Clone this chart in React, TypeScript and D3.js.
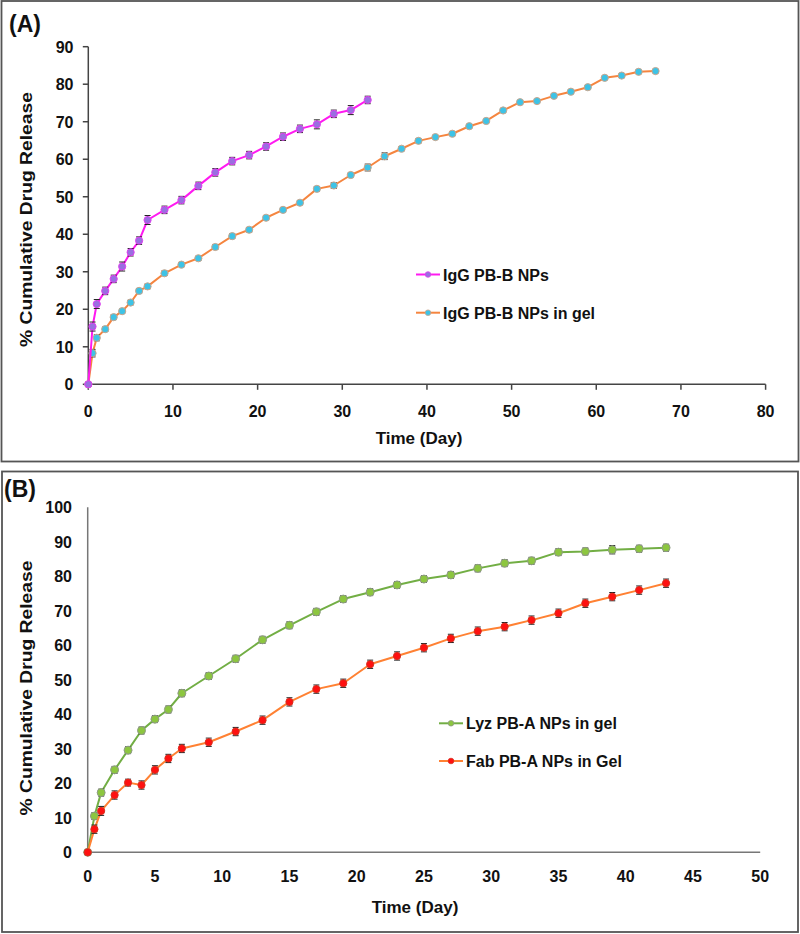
import React from "react";
import * as d3 from "d3";

// ---------- Panel A data ----------
const daysA_np = [0, 0.5, 1, 2, 3, 4, 5, 6, 7, 9, 11, 13, 15, 17, 19, 21, 23, 25, 27, 29, 31, 33];
const igG_np = [0, 15.4, 21.4, 24.9, 28.1, 31.4, 35.2, 38.3, 43.8, 46.5, 49.1, 52.9, 56.5, 59.5, 61.1, 63.4, 66.0, 68.1, 69.3, 72.1, 73.1, 75.8];
const igG_np_err = [0.3, 1.2, 1.2, 1.0, 1.0, 1.2, 1.0, 1.0, 1.2, 1.0, 1.0, 1.0, 1.0, 1.0, 1.0, 1.0, 1.0, 1.0, 1.2, 1.0, 1.2, 1.0];

const daysA_gel = [0, 0.5, 1, 2, 3, 4, 5, 6, 7, 9, 11, 13, 15, 17, 19, 21, 23, 25, 27, 29, 31, 33, 35, 37, 39, 41, 43, 45, 47, 49, 51, 53, 55, 57, 59, 61, 63, 65, 67];
const igG_gel = [0, 8.3, 12.4, 14.7, 17.9, 19.5, 21.8, 24.9, 26.1, 29.6, 31.9, 33.6, 36.6, 39.5, 41.2, 44.4, 46.5, 48.4, 52.1, 53.0, 55.8, 57.8, 60.8, 62.8, 64.9, 65.9, 66.8, 68.8, 70.2, 73.0, 75.2, 75.5, 76.9, 78.0, 79.2, 81.7, 82.3, 83.3, 83.5];
const igG_gel_err = [0.2, 1.0, 0.8, 0.6, 0.6, 0.5, 0.6, 0.6, 0.6, 0.6, 0.5, 0.5, 0.6, 0.6, 0.6, 0.5, 0.5, 0.5, 0.6, 0.8, 0.5, 0.9, 0.9, 0.5, 0.5, 0.4, 0.4, 0.4, 0.4, 0.4, 0.4, 0.4, 0.4, 0.4, 0.4, 0.4, 0.4, 0.4, 0.4];

const xTicksA = [0, 10, 20, 30, 40, 50, 60, 70, 80];
const yTicksA = [0, 10, 20, 30, 40, 50, 60, 70, 80, 90];

// ---------- Panel B data ----------
const daysB = [0, 0.5, 1, 2, 3, 4, 5, 6, 7, 9, 11, 13, 15, 17, 19, 21, 23, 25, 27, 29, 31, 33, 35, 37, 39, 41, 43];
const lyz_gel = [0, 10.5, 17.3, 23.9, 29.6, 35.3, 38.6, 41.4, 46.1, 51.1, 56.1, 61.6, 65.8, 69.7, 73.4, 75.4, 77.5, 79.2, 80.4, 82.3, 83.8, 84.5, 87.0, 87.2, 87.7, 88.0, 88.3];
const lyz_err = [0.3, 1.0, 1.0, 1.0, 1.0, 1.0, 1.0, 1.0, 1.0, 1.0, 1.0, 1.0, 1.0, 1.0, 1.0, 1.0, 1.0, 1.0, 1.0, 1.0, 1.0, 1.0, 1.0, 1.0, 1.2, 1.0, 1.0];
const fab_gel = [0, 6.7, 12.0, 16.6, 20.2, 19.5, 23.9, 27.2, 30.1, 31.9, 35.0, 38.3, 43.6, 47.3, 49.0, 54.5, 56.9, 59.3, 62.0, 64.1, 65.4, 67.3, 69.3, 72.2, 74.1, 76.0, 78.0];
const fab_err = [0.3, 1.2, 1.3, 1.2, 1.0, 1.2, 1.2, 1.2, 1.2, 1.2, 1.2, 1.2, 1.2, 1.2, 1.2, 1.2, 1.2, 1.2, 1.2, 1.2, 1.2, 1.2, 1.2, 1.2, 1.2, 1.2, 1.2];

const xTicksB = [0, 5, 10, 15, 20, 25, 30, 35, 40, 45, 50];
const yTicksB = [0, 10, 20, 30, 40, 50, 60, 70, 80, 90, 100];

const FONT = "'Liberation Sans', Arial, sans-serif";

type Series = {
  days: number[];
  values: number[];
  errs: number[];
  line: string;
  fill: string;
  stroke: string;
  r: number;
  label: string;
};

function SeriesMarks({ s, x, y }: { s: Series; x: any; y: any }) {
  const pts = s.days.map((d, i) => [d, s.values[i]] as [number, number]);
  const path = d3.line<[number, number]>().x((p) => x(p[0])).y((p) => y(p[1]))(pts) || "";
  return (
    <g>
      <path d={path} fill="none" stroke={s.line} strokeWidth={2} strokeLinejoin="round" />
      {pts.map((p, i) => {
        const cx = x(p[0]);
        const e = s.errs[i];
        const y1 = y(p[1] - e);
        const y2 = y(p[1] + e);
        return (
          <g key={"e" + i}>
            <line x1={cx} x2={cx} y1={y1} y2={y2} stroke="#222" strokeWidth={1} />
            <line x1={cx - 3} x2={cx + 3} y1={y1} y2={y1} stroke="#222" strokeWidth={1} />
            <line x1={cx - 3} x2={cx + 3} y1={y2} y2={y2} stroke="#222" strokeWidth={1} />
          </g>
        );
      })}
      {pts.map((p, i) => (
        <circle key={"c" + i} cx={x(p[0])} cy={y(p[1])} r={s.r} fill={s.fill} stroke={s.stroke} strokeWidth={1} />
      ))}
    </g>
  );
}

function LegendItem({ s, x, y }: { s: Series; x: number; y: number }) {
  return (
    <g>
      <line x1={x} x2={x + 24} y1={y} y2={y} stroke={s.line} strokeWidth={2} />
      <circle cx={x + 12} cy={y} r={2.8} fill={s.fill} stroke={s.stroke} strokeWidth={0.8} />
      <text x={x + 27} y={y + 6} fontFamily={FONT} fontWeight="bold" fontSize={16} fill="#111">
        {s.label}
      </text>
    </g>
  );
}

export default function App() {
  // Panel A scales
  const xA = d3.scaleLinear().domain([0, 80]).range([88.3, 765.6]);
  const yA = d3.scaleLinear().domain([0, 90]).range([384.3, 46.7]);
  // Panel B scales
  const xB = d3.scaleLinear().domain([0, 50]).range([87.7, 760.2]);
  const yB = d3.scaleLinear().domain([0, 100]).range([852.3, 507.3]);

  const sA1: Series = { days: daysA_np, values: igG_np, errs: igG_np_err, line: "#FF1AF0", fill: "#9A6FE0", stroke: "#E040F0", r: 3.6, label: "IgG PB-B NPs" };
  const sA2: Series = { days: daysA_gel, values: igG_gel, errs: igG_gel_err, line: "#F5853F", fill: "#3EC3E6", stroke: "#C9A58C", r: 3.6, label: "IgG PB-B NPs in gel" };
  const sB1: Series = { days: daysB, values: lyz_gel, errs: lyz_err, line: "#72AE44", fill: "#8CC63F", stroke: "#8E9A86", r: 4, label: "Lyz PB-A NPs in gel" };
  const sB2: Series = { days: daysB, values: fab_gel, errs: fab_err, line: "#FF8133", fill: "#FF1010", stroke: "#D83020", r: 3.6, label: "Fab PB-A NPs in Gel" };

  const tickFont = { fontFamily: FONT, fontWeight: "bold" as const, fontSize: 16, fill: "#111" };

  return (
    <svg width={800} height={934} style={{ position: "absolute", left: 0, top: 0, background: "#fff" }}>
      <rect x={0} y={0} width={800} height={934} fill="#fff" />
      {/* Panel A frame */}
      <rect x={1.5} y={1} width={797} height={460.5} fill="none" stroke="#555" strokeWidth={1.8} />
      {/* Panel B frame */}
      <rect x={2} y={471.5} width={796} height={460.5} fill="none" stroke="#555" strokeWidth={1.8} />

      {/* Panel A */}
      <text x={9} y={32} fontFamily={FONT} fontWeight="bold" fontSize={23} fill="#111">(A)</text>
      <line x1={xA(0)} x2={xA(0)} y1={yA(0)} y2={yA(90)} stroke="#444" strokeWidth={1.5} />
      <line x1={xA(0)} x2={xA(80)} y1={yA(0)} y2={yA(0)} stroke="#444" strokeWidth={1.5} />
      {yTicksA.map((t) => (
        <g key={"ya" + t}>
          <line x1={xA(0) - 5.5} x2={xA(0)} y1={yA(t)} y2={yA(t)} stroke="#444" strokeWidth={1.5} />
          <text x={73.5} y={yA(t) + 5.8} textAnchor="end" {...tickFont}>{t}</text>
        </g>
      ))}
      {xTicksA.map((t) => (
        <g key={"xa" + t}>
          <line x1={xA(t)} x2={xA(t)} y1={yA(0)} y2={yA(0) + 5.5} stroke="#444" strokeWidth={1.5} />
          <text x={xA(t)} y={416.5} textAnchor="middle" {...tickFont}>{t}</text>
        </g>
      ))}
      <text x={419} y={444} textAnchor="middle" fontFamily={FONT} fontWeight="bold" fontSize={17} fill="#111">Time (Day)</text>
      <text transform="translate(32,219.5) rotate(-90)" textAnchor="middle" fontFamily={FONT} fontWeight="bold" fontSize={16} fill="#111" textLength={255} lengthAdjust="spacingAndGlyphs">% Cumulative Drug Release</text>
      <SeriesMarks s={sA2} x={xA} y={yA} />
      <SeriesMarks s={sA1} x={xA} y={yA} />
      <LegendItem s={sA1} x={416} y={274.5} />
      <LegendItem s={sA2} x={416} y={312.7} />

      {/* Panel B */}
      <text x={4} y={497} fontFamily={FONT} fontWeight="bold" fontSize={23} fill="#111">(B)</text>
      <line x1={xB(0)} x2={xB(0)} y1={yB(0)} y2={yB(100)} stroke="#777" strokeWidth={1.5} />
      <line x1={xB(0)} x2={xB(50)} y1={yB(0)} y2={yB(0)} stroke="#777" strokeWidth={1.5} />
      {yTicksB.map((t) => (
        <text key={"yb" + t} x={72} y={yB(t) + 5.8} textAnchor="end" {...tickFont}>{t}</text>
      ))}
      {xTicksB.map((t) => (
        <text key={"xb" + t} x={xB(t)} y={882} textAnchor="middle" {...tickFont}>{t}</text>
      ))}
      <text x={415} y={913} textAnchor="middle" fontFamily={FONT} fontWeight="bold" fontSize={17} fill="#111">Time (Day)</text>
      <text transform="translate(32,688) rotate(-90)" textAnchor="middle" fontFamily={FONT} fontWeight="bold" fontSize={16} fill="#111" textLength={255} lengthAdjust="spacingAndGlyphs">% Cumulative Drug Release</text>
      <SeriesMarks s={sB1} x={xB} y={yB} />
      <SeriesMarks s={sB2} x={xB} y={yB} />
      <LegendItem s={sB1} x={439} y={723.3} />
      <LegendItem s={sB2} x={439} y={761} />
    </svg>
  );
}
